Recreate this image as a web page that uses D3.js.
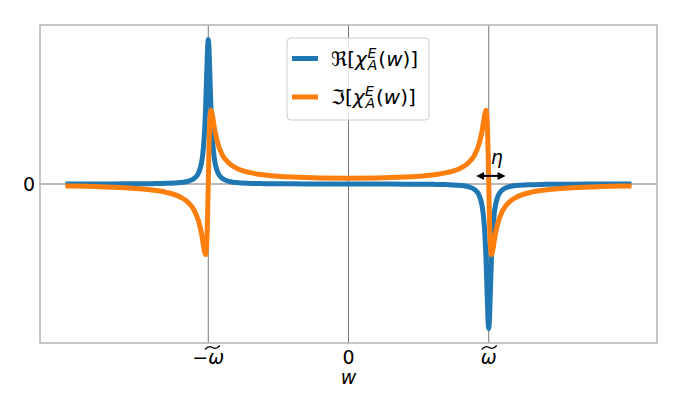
<!DOCTYPE html>
<html><head><meta charset="utf-8">
<script src="https://cdn.jsdelivr.net/npm/d3@7"></script>
<style>
html,body{margin:0;padding:0;background:#fff;}
svg{display:block;font-family:"DejaVu Sans",sans-serif;}
</style></head>
<body>
<svg id="chart" width="682" height="402"></svg>
<script>
// ---- data ----
const wValues = [-2, -1.8, -1.6, -1.4, -1.3, -1.2, -1.15, -1.1, -1.07, -1.05, -1.04, -1.03, -1.02, -1.01, -1.005, -1.0, -0.995, -0.99, -0.98, -0.97, -0.96, -0.95, -0.93, -0.9, -0.85, -0.8, -0.7, -0.6, -0.5, -0.4, -0.2, 0,
  0.2, 0.4, 0.5, 0.6, 0.7, 0.8, 0.85, 0.9, 0.93, 0.95, 0.96, 0.97, 0.98, 0.99, 0.995, 1.0, 1.005, 1.01, 1.02, 1.03, 1.04, 1.05, 1.07, 1.1, 1.15, 1.2, 1.3, 1.4, 1.6, 1.8, 2];
const realValues = [0.02, 0.03, 0.05, 0.12, 0.22, 0.49, 0.87, 1.92, 3.77, 6.9, 10, 15.4, 25, 40, 47.1, 50, 47.1, 40, 25, 15.4, 10, 6.9, 3.77, 1.92, 0.87, 0.49, 0.21, 0.12, 0.07, 0.05, 0.02, 0,
  -0.02, -0.05, -0.07, -0.12, -0.21, -0.49, -0.87, -1.92, -3.77, -6.9, -10, -15.4, -25, -40, -47.1, -50, -47.1, -40, -25, -15.4, -10, -6.9, -3.77, -1.92, -0.87, -0.49, -0.22, -0.12, -0.05, -0.03, -0.02];
const imagValues = [-0.67, -0.89, -1.28, -2.07, -2.89, -4.5, -6.08, -9.14, -12.7, -16.7, -19.5, -22.6, -24.5, -19.5, -11.3, 0.5, 12.3, 20.5, 25.5, 23.6, 20.5, 17.7, 13.7, 10.1, 7.09, 5.51, 3.91, 3.12, 2.67, 2.38, 2.08, 2.0,
  2.08, 2.38, 2.67, 3.12, 3.91, 5.51, 7.09, 10.1, 13.7, 17.7, 20.5, 23.6, 25.5, 20.5, 12.3, 0.5, -11.3, -19.5, -24.5, -22.6, -19.5, -16.7, -12.7, -9.14, -6.08, -4.5, -2.89, -2.07, -1.28, -0.89, -0.67];
const xTickValues = [-1, 0, 1];
const xTickLabels = ["−ω", "0", "ω"];   // ω ticks get a wide tilde accent
const yTickValues = [0];
const yTickLabels = ["0"];
const etaArrow = [0.91, 1.12];  // data-x extent of the η arrow
const etaArrowY = 2.8;

// ---- layout ----
const svg = d3.select("#chart");
const L = 40, R = 657, T = 25, B = 343;
const x = d3.scaleLinear().domain([-2.2, 2.2]).range([L, R]);
const y = d3.scaleLinear().domain([-55, 55]).range([B, T]);

// grid lines
const g = svg.append("g");
g.selectAll("line.vg").data(xTickValues).enter().append("line")
  .attr("x1", d => x(d)).attr("x2", d => x(d)).attr("y1", T).attr("y2", B)
  .attr("stroke", "#777").attr("stroke-width", 1);
g.selectAll("line.hg").data(yTickValues).enter().append("line")
  .attr("x1", L).attr("x2", R).attr("y1", d => y(d)).attr("y2", d => y(d))
  .attr("stroke", "#777").attr("stroke-width", 1);

// curves
const line = d3.line().x(d => x(d[0])).y(d => y(d[1])).curve(d3.curveMonotoneX);
const realPts = wValues.map((w, i) => [w, realValues[i]]);
const imagPts = wValues.map((w, i) => [w, imagValues[i]]);
svg.append("path").attr("d", line(realPts)).attr("fill", "none")
  .attr("stroke", "#1f77b4").attr("stroke-width", 5).attr("stroke-linejoin", "round").attr("stroke-linecap", "square");
svg.append("path").attr("d", line(imagPts)).attr("fill", "none")
  .attr("stroke", "#ff7f0e").attr("stroke-width", 5).attr("stroke-linejoin", "round").attr("stroke-linecap", "square");

// spines
svg.append("rect").attr("x", L).attr("y", T).attr("width", R - L).attr("height", B - T)
  .attr("fill", "none").attr("stroke", "#b8b8b8").attr("stroke-width", 1.6);

// x tick labels
const xt = svg.append("g");
xTickValues.forEach((v, i) => {
  const lab = xTickLabels[i];
  const t = xt.append("text").attr("x", x(v)).attr("y", 364).attr("text-anchor", "middle")
    .attr("font-size", 19).attr("fill", "#000");
  if (lab === "0") { t.text("0"); return; }
  if (lab.startsWith("−")) t.append("tspan").text("−");
  t.append("tspan").attr("font-style", "italic").text("ω");
  // wide tilde over the ω
  const bb = t.node().getBBox();
  const wx = lab.startsWith("−") ? bb.x + bb.width * 0.63 : x(v) + 0.5;
  const tw = 7.5;
  xt.append("path")
    .attr("d", `M${wx - tw},${349.5} Q${wx - tw/2},${345} ${wx},${347.5} T${wx + tw},${345.5}`)
    .attr("fill", "none").attr("stroke", "#000").attr("stroke-width", 1.2);
});
// y tick labels
yTickValues.forEach((v, i) => {
  svg.append("text").attr("x", 35).attr("y", y(v) + 7).attr("text-anchor", "end")
    .attr("font-size", 19).attr("fill", "#000").text(yTickLabels[i]);
});
// x axis label
svg.append("text").attr("x", x(0)).attr("y", 384).attr("text-anchor", "middle")
  .attr("font-size", 19).attr("font-style", "italic").text("w");

// eta arrow
const ax1 = x(etaArrow[0]), ax2 = x(etaArrow[1]), ay = y(etaArrowY);
svg.append("line").attr("x1", ax1 + 4).attr("x2", ax2 - 4).attr("y1", ay).attr("y2", ay)
  .attr("stroke", "#000").attr("stroke-width", 2);
svg.append("path").attr("d", `M${ax1},${ay} L${ax1 + 8},${ay - 4} L${ax1 + 8},${ay + 4} Z`).attr("fill", "#000");
svg.append("path").attr("d", `M${ax2},${ay} L${ax2 - 8},${ay - 4} L${ax2 - 8},${ay + 4} Z`).attr("fill", "#000");
svg.append("text").attr("x", (ax1 + ax2) / 2 + 6).attr("y", ay - 12).attr("text-anchor", "middle")
  .attr("font-size", 19).attr("font-style", "italic").text("η");

// legend
const lg = svg.append("g");
lg.append("rect").attr("x", 287).attr("y", 38).attr("width", 142).attr("height", 82).attr("rx", 4)
  .attr("fill", "#fff").attr("fill-opacity", 0.8).attr("stroke", "#cccccc").attr("stroke-width", 1);
const series = [{sym: "ℜ", color: "#1f77b4", yy: 58.5}, {sym: "ℑ", color: "#ff7f0e", yy: 97}];
// measure script width once
const probe = svg.append("text").attr("font-size", 14).attr("font-style", "italic").text("E");
const eW = probe.node().getComputedTextLength();
probe.remove();
series.forEach(s => {
  lg.append("line").attr("x1", 292).attr("x2", 318).attr("y1", s.yy).attr("y2", s.yy)
    .attr("stroke", s.color).attr("stroke-width", 5);
  const base = s.yy + 7;
  const t = lg.append("text").attr("x", 331).attr("y", base).attr("font-size", 20);
  t.append("tspan").text(s.sym + "[");
  t.append("tspan").attr("font-style", "italic").text("χ");
  t.append("tspan").attr("font-style", "italic").attr("font-size", 14).attr("dx", 0.5).attr("dy", -8).text("E");
  t.append("tspan").attr("font-style", "italic").attr("font-size", 14).attr("dx", -eW + 0.3).attr("dy", 12).text("A");
  t.append("tspan").attr("dx", 1).attr("dy", -4).text("(");
  t.append("tspan").attr("font-style", "italic").text("w");
  t.append("tspan").text(")]");
});
</script>
</body></html>
